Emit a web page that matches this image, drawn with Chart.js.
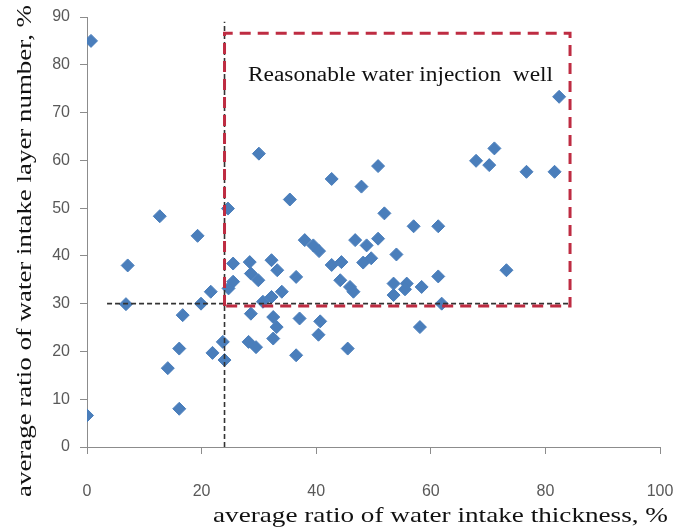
<!DOCTYPE html>
<html>
<head>
<meta charset="utf-8">
<script src="https://cdn.jsdelivr.net/npm/chart.js@4/dist/chart.umd.min.js"></script>
<style>
  html, body { margin: 0; padding: 0; background: #ffffff; }
  canvas { display: block; }
</style>
</head>
<body>
<canvas id="c" width="680" height="528"></canvas>
<script>
// ---- data ----
const thicknessPct = [
  0.7, 0, 7.1, 6.8, 12.7, 19.3, 16.7, 16.1, 14.1, 16.1, 19.9, 21.6, 21.9, 23.7, 24.0,
  24.6, 25.5, 25.5, 24.7, 28.4, 28.6, 29.9, 32.2, 33.2, 36.5, 34.0, 32.2, 30.7, 28.6, 32.5,
  33.1, 32.5, 37.1, 40.7, 40.4, 28.2, 29.5, 36.5, 38.0, 39.5, 40.5,
  30.0, 35.4, 42.7, 47.9, 50.8, 51.9, 57.0, 61.3,
  46.8, 48.8, 50.8, 48.2, 49.6, 54.0, 61.3, 61.9, 42.7, 44.4, 44.2, 45.9, 46.5, 53.5,
  53.5, 55.8, 55.5, 58.4, 58.1, 45.5,
  82.4, 67.9, 71.1, 70.2, 76.7, 81.6, 73.2
];
const layerPct = [
  85.0, 6.6, 38.0, 29.9, 48.3, 44.2, 27.6, 20.6, 16.5, 8.0, 30.0, 32.5, 19.7, 22.0, 18.2,
  49.9, 38.4, 34.6, 33.2, 38.7, 36.3, 34.9, 39.1, 37.0, 35.6, 32.5, 31.4, 30.4, 27.9, 27.2,
  25.1, 22.7, 26.9, 26.3, 23.5, 22.0, 20.9, 19.2, 43.3, 42.2, 41.0,
  61.4, 51.8, 56.1, 54.5, 58.8, 48.9, 46.2, 46.2,
  43.3, 42.2, 43.6, 38.6, 39.5, 40.3, 35.7, 30.0, 38.1, 38.7, 34.9, 33.5, 32.5, 34.2,
  31.8, 34.2, 33.0, 33.5, 25.1, 20.6,
  73.3, 59.9, 62.5, 59.0, 57.6, 57.6, 37.0
];
const xTickLabels = ['0', '20', '40', '60', '80', '100'];
const yTickLabels = ['0', '10', '20', '30', '40', '50', '60', '70', '80', '90'];

// reference lines / region (axis units)
const vLineX = [24, 24];
const vLineY = [0, 89];
const hLineX = [3.5, 84];
const hLineY = [30, 30];
const boxX = [24, 24, 84.3, 84.3, 24];
const boxY = [29.5, 86.6, 86.6, 29.5, 29.5];

const xTitle = 'average ratio of water intake thickness, %';
const yTitle = 'average ratio of water intake layer number, %';
const boxLabel = 'Reasonable water injection  well';

const toPts = (xs, ys) => xs.map((x, i) => ({ x: x, y: ys[i] }));

const textPlugin = {
  id: 'texts',
  afterDraw(chart) {
    const ctx = chart.ctx;
    const xs = chart.scales.x, ys = chart.scales.y;
    function fitText(str, font, targetW, x, y, rot, align) {
      ctx.save();
      ctx.font = font;
      const w = ctx.measureText(str).width;
      const k = targetW / w;
      ctx.translate(x, y);
      if (rot) ctx.rotate(rot);
      ctx.scale(k, 1);
      ctx.textAlign = align;
      ctx.textBaseline = 'alphabetic';
      ctx.fillStyle = '#111111';
      ctx.fillText(str, 0, 0);
      ctx.restore();
    }
    fitText(boxLabel, '20px "Liberation Serif", "Times New Roman", serif', 305,
      xs.getPixelForValue(28.1), ys.getPixelForValue(76.6), 0, 'left');
    fitText(xTitle, '22px "Liberation Serif", "Times New Roman", serif', 455,
      213, 522, 0, 'left');
    fitText(yTitle, '22px "Liberation Serif", "Times New Roman", serif', 492,
      31, 251, -Math.PI / 2, 'center');
  }
};

const tickFont = { family: '"Liberation Sans Narrow", "Arial Narrow", "Liberation Sans", sans-serif', size: 16 };

new Chart(document.getElementById('c'), {
  type: 'scatter',
  data: {
    datasets: [
      {
        type: 'line',
        data: toPts(boxX, boxY),
        borderColor: '#BE2C42',
        borderWidth: 3,
        borderDash: [11, 7],
        pointRadius: 0,
        fill: false,
        tension: 0,
        order: 0
      },
      {
        type: 'line',
        data: toPts(vLineX, vLineY),
        borderColor: '#333333',
        borderWidth: 1.6,
        borderDash: [5, 3],
        pointRadius: 0,
        fill: false,
        order: 1
      },
      {
        type: 'line',
        data: toPts(hLineX, hLineY),
        borderColor: '#333333',
        borderWidth: 1.6,
        borderDash: [5, 3],
        pointRadius: 0,
        fill: false,
        order: 1
      },
      {
        data: toPts(thicknessPct, layerPct),
        pointStyle: 'rectRot',
        pointRadius: 6.5,
        backgroundColor: '#4A7EBB',
        borderColor: '#4A7EBB',
        borderWidth: 1,
        order: 2
      }
    ]
  },
  options: {
    responsive: false,
    animation: false,
    events: [],
    layout: { padding: { top: 17, right: 20, left: 0, bottom: 0 } },
    plugins: { legend: { display: false }, tooltip: { enabled: false } },
    scales: {
      x: {
        type: 'linear',
        min: 0, max: 100,
        afterFit: (s) => { s.height = 81; s.paddingLeft = 0; s.paddingRight = 0; },
        afterBuildTicks: (s) => { s.ticks = xTickLabels.map(v => ({ value: Number(v) })); },
        ticks: {
          callback: (v) => String(v),
          color: '#595959',
          font: tickFont,
          padding: 28,
          maxRotation: 0
        },
        grid: { drawOnChartArea: false, tickLength: 7, color: '#8C8C8C', lineWidth: 1 },
        border: { color: '#8C8C8C', width: 1 }
      },
      y: {
        type: 'linear',
        min: 0, max: 90,
        afterFit: (s) => { s.width = 87; s.paddingTop = 0; s.paddingBottom = 0; },
        afterBuildTicks: (s) => { s.ticks = yTickLabels.map(v => ({ value: Number(v) })); },
        ticks: {
          callback: (v) => String(v),
          color: '#595959',
          font: tickFont,
          padding: 10
        },
        grid: { drawOnChartArea: false, tickLength: 7, color: '#8C8C8C', lineWidth: 1 },
        border: { color: '#8C8C8C', width: 1 }
      }
    }
  },
  plugins: [textPlugin]
});
</script>
</body>
</html>
